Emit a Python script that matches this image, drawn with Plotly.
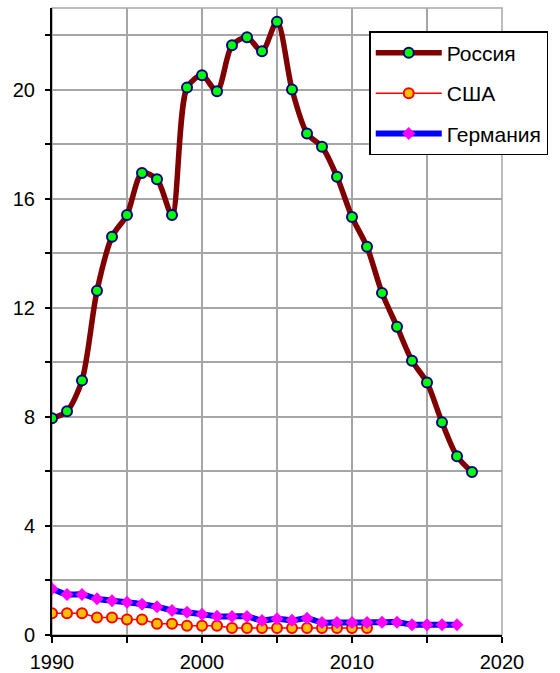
import plotly.graph_objects as go

years_russia = list(range(1990, 2019))
russia = [7.95, 8.21, 9.34, 12.63, 14.61, 15.41, 16.95, 16.72, 15.41, 20.08,
          20.53, 19.95, 21.63, 21.93, 21.41, 22.50, 20.01, 18.40, 17.91, 16.81,
          15.33, 14.24, 12.55, 11.31, 10.06, 9.26, 7.80, 6.56, 5.98]

years_usa = list(range(1990, 2012))
usa = [0.80, 0.80, 0.80, 0.64, 0.64, 0.57, 0.57, 0.41, 0.41, 0.34,
       0.34, 0.34, 0.26, 0.26, 0.26, 0.26, 0.26, 0.26, 0.26, 0.26,
       0.26, 0.26]

years_germany = list(range(1990, 2018))
germany = [1.70, 1.49, 1.49, 1.33, 1.26, 1.20, 1.13, 1.04, 0.90, 0.83,
           0.76, 0.69, 0.68, 0.68, 0.53, 0.60, 0.54, 0.61, 0.46, 0.46,
           0.46, 0.46, 0.47, 0.47, 0.38, 0.38, 0.38, 0.38]

names = ["Россия", "США", "Германия"]

fig = go.Figure()
fig.add_trace(go.Scatter(
    x=years_russia, y=russia, name=names[0], mode="lines+markers",
    legendgroup="a",
    line=dict(color="#800000", width=5.5, shape="spline", smoothing=0.8),
    marker=dict(symbol="circle", size=10, color="#00FF00",
                line=dict(color="#000080", width=2))))
fig.add_trace(go.Scatter(
    x=years_usa, y=usa, name=names[1], mode="lines+markers",
    legendgroup="b",
    line=dict(color="#FF0000", width=1.5),
    marker=dict(symbol="circle", size=10, color="#FFC000",
                line=dict(color="#FF0000", width=2))))
fig.add_trace(go.Scatter(
    x=years_germany, y=germany, name=names[2], mode="lines+markers",
    legendgroup="c",
    line=dict(color="#0000FF", width=6, shape="spline", smoothing=0.8),
    marker=dict(symbol="diamond", size=10, color="#FF00FF")))

grid = "#A6A6A6"
fig.update_layout(
    width=560, height=673,
    margin=dict(l=52, r=58, t=8, b=38),
    paper_bgcolor="white", plot_bgcolor="white",
    font=dict(family="Arial, Liberation Sans, sans-serif", size=20, color="black"),
    showlegend=True,
    legend=dict(x=0.705, y=0.963, xanchor="left", yanchor="top",
                bgcolor="white", bordercolor="black", borderwidth=1.5,
                font=dict(size=21), tracegroupgap=10,
                itemwidth=66),
    xaxis=dict(range=[1990, 2020], dtick=10, tick0=1990,
               showgrid=True, gridcolor=grid, gridwidth=1.5,
               showline=True, linecolor="black", linewidth=2,
               ticks="outside", ticklen=6, tickwidth=2, tickcolor="black",
               minor=dict(dtick=5, showgrid=True, gridcolor=grid, gridwidth=1.5,
                          ticks="outside", ticklen=6, tickwidth=2, tickcolor="black"),
               zeroline=False, fixedrange=True, automargin=False,
               ticklabelstandoff=2),
    yaxis=dict(range=[0, 23], dtick=4, tick0=0,
               showgrid=True, gridcolor=grid, gridwidth=1.5,
               showline=True, linecolor="black", linewidth=2,
               ticks="outside", ticklen=5, tickwidth=2, tickcolor="black",
               minor=dict(dtick=2, showgrid=True, gridcolor=grid, gridwidth=1.5,
                          ticks="outside", ticklen=5, tickwidth=2, tickcolor="black"),
               zeroline=False, fixedrange=True, automargin=False,
               ticklabelstandoff=6),
    shapes=[dict(type="rect", xref="paper", yref="paper", x0=0, x1=1, y0=0, y1=1,
                 line=dict(color=grid, width=1.5), layer="below")],
)

fig.write_html("out.html",
               config={"displayModeBar": False},
               post_script="document.body.style.margin='0';document.body.style.overflow='hidden';")
